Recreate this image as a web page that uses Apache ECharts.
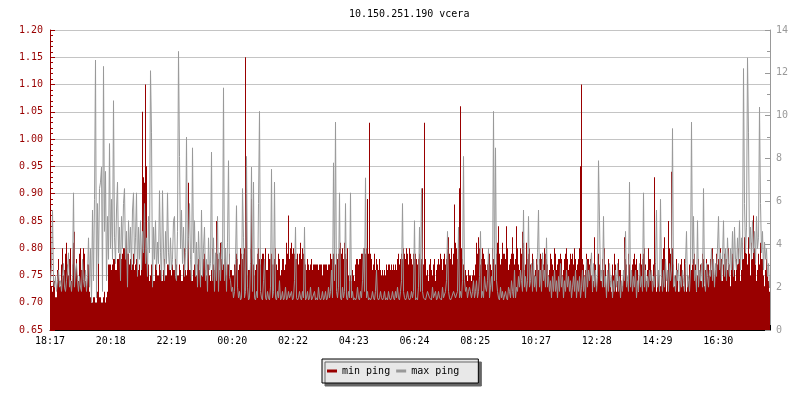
<!DOCTYPE html>
<html><head><meta charset="utf-8">
<script src="https://cdn.jsdelivr.net/npm/echarts@6/dist/echarts.min.js"></script>
<style>html,body{margin:0;padding:0;background:#fff}#c{width:800px;height:400px}</style>
</head><body><div id="c"></div>
<script>
const chartTitle = '10.150.251.190 vcera';
const timeLabels = ['18:17','20:18','22:19','00:20','02:22','04:23','06:24','08:25','10:27','12:28','14:29','16:30'];
const labelStepMin = 121.5;
const minutesPerSample = 2;
const totalMinutes = 1440;
const seriesNames = ['min ping', 'max ping'];
// min ping (ms, left axis), one value per 2 minutes
const minPing = [
.76,.73,.72,.75,.74,.71,.71,.76,.78,.74,.73,.77,.80,.75,.76,.79,.81,.77,.75,.78,.80,.74,.77,.81,.83,.76,.78,.75,.74,.79,.80,.76,.76,.80,.79,.74,.73,.77,.77,.72,.71,.70,.70,.71,.71,.70,.70,.72,.79,.71,.71,.70,.70,.71,.72,.70,.71,.72,.77,.77,
.77,.76,.77,.78,.78,.76,.76,.78,.78,.79,.79,.78,.79,.80,.80,.78,.83,.79,.79,.77,.78,.76,.77,.79,.76,.77,.78,.75,.76,.77,.75,.76,1.05,.93,.92,1.10,.95,.76,.77,.74,.75,.77,.76,.74,.74,.77,.77,.75,.75,.77,.76,.74,.74,.76,.78,.75,.75,.77,.77,.76,
.76,.75,.77,.76,.76,.78,.77,.75,.75,.77,.76,.74,.74,.77,.80,.76,.75,.78,.92,.76,.76,.74,.74,.76,.77,.75,.75,.77,.78,.76,.74,.75,.76,.78,.79,.76,.75,.77,.77,.75,.74,.76,.80,.77,.76,.78,.85,.79,.78,.76,.81,.78,.76,.77,.78,.80,.75,.77,.77,.79,
.76,.76,.75,.75,.77,.77,.79,.78,.76,.77,.80,.79,.78,.79,.80,1.15,.96,.75,.76,.76,.80,.89,.78,.77,.75,.76,.77,.79,.80,.78,.77,.78,.79,.79,.78,.80,.76,.76,.79,.78,.78,.79,.77,.77,.78,.80,.77,.76,.79,.78,.75,.76,.78,.78,.76,.77,.81,.79,.86,.78,
.80,.81,.79,.80,.79,.78,.78,.79,.77,.79,.81,.78,.80,.79,.78,.77,.76,.78,.77,.76,.77,.78,.76,.77,.77,.77,.77,.77,.76,.77,.77,.77,.75,.77,.77,.77,.77,.76,.77,.77,.79,.78,.78,.79,.78,.77,.79,.78,.79,.80,.81,.79,.80,.78,.81,.79,.78,.80,.75,.74,
.75,.74,.76,.75,.74,.77,.78,.78,.77,.78,.78,.79,.79,.80,.80,.79,.80,.89,.79,1.03,.79,.78,.76,.77,.79,.76,.78,.77,.76,.78,.76,.75,.76,.75,.76,.75,.77,.76,.77,.77,.76,.77,.76,.77,.76,.77,.76,.78,.79,.77,.78,.79,.78,.80,.79,.78,.80,.79,.77,.80,
.79,.78,.77,.79,.78,.79,.78,.77,.78,.79,.77,.78,.91,.77,1.03,.78,.75,.76,.74,.77,.78,.76,.75,.77,.78,.74,.76,.77,.78,.77,.79,.78,.76,.78,.79,.77,.78,.80,.82,.79,.78,.80,.77,.79,.88,.81,.80,.78,.82,.91,1.06,.80,.78,.77,.75,.76,.75,.74,.76,.75,
.75,.74,.75,.76,.75,.77,.81,.79,.82,.80,.77,.78,.80,.79,.78,.77,.76,.77,.78,.79,.77,.76,.80,.78,.76,.77,.79,.81,.84,.79,.77,.78,.81,.79,.79,.78,.84,.80,.76,.77,.78,.79,.82,.79,.77,.78,.84,.80,.77,.76,.80,.79,.83,.81,.76,.77,.81,.78,.79,.80,
.77,.76,.79,.78,.75,.76,.78,.77,.76,.78,.79,.78,.76,.77,.80,.79,.78,.77,.75,.76,.79,.78,.77,.76,.80,.79,.76,.77,.78,.78,.79,.78,.75,.76,.78,.79,.80,.78,.76,.77,.79,.78,.79,.77,.80,.78,.76,.77,.78,.80,.95,1.10,.78,.77,.75,.76,.79,.78,.78,.77,
.78,.75,.72,.74,.82,.77,.73,.76,.79,.77,.76,.74,.78,.76,.80,.77,.72,.75,.78,.76,.74,.72,.77,.75,.79,.77,.72,.74,.78,.76,.76,.74,.73,.75,.82,.78,.77,.74,.79,.77,.73,.75,.77,.78,.79,.77,.78,.76,.72,.75,.79,.77,.78,.79,.80,.77,.74,.76,.80,.78,
.78,.76,.74,.77,.93,.78,.72,.74,.76,.75,.73,.76,.78,.80,.82,.78,.72,.76,.85,.80,.79,.94,.80,.77,.73,.75,.78,.76,.72,.74,.77,.78,.75,.73,.78,.77,.72,.75,.74,.77,.78,.76,.77,.78,.79,.77,.72,.75,.78,.76,.77,.74,.79,.78,.73,.76,.78,.77,.77,.75,
.78,.76,.80,.78,.73,.76,.79,.77,.78,.76,.80,.78,.74,.77,.79,.78,.78,.76,.80,.77,.73,.76,.79,.77,.76,.74,.78,.77,.80,.78,.74,.76,.81,.78,.82,.80,.79,.77,.82,.79,.75,.81,.78,.86,.80,.77,.74,.76,.79,.77,.81,.78,.78,.75,.73,.76,.78,.75,.74,.72
];
// max ping (ms, right axis), one value per 2 minutes
const maxPing = [
2.3,3.0,5.6,2.3,2.0,2.5,1.8,2.3,2.8,2.0,2.3,1.8,2.5,3.1,2.0,1.8,2.3,2.8,3.6,2.0,2.3,1.8,2.5,6.4,2.0,2.8,3.1,2.3,1.8,2.5,2.0,1.8,3.3,2.3,2.0,2.8,1.8,2.5,4.3,2.0,3.8,1.3,5.6,2.3,6.1,12.6,1.5,5.9,3.1,6.6,6.9,7.6,1.8,12.3,4.6,7.4,2.3,5.3,3.3,8.7,
3.8,6.1,3.3,10.7,4.3,3.1,5.6,6.9,3.6,4.8,2.3,5.3,3.8,5.9,6.6,3.3,4.6,2.0,5.1,3.6,4.8,2.8,5.6,6.4,3.1,4.3,6.4,2.5,4.8,3.3,5.1,2.8,4.6,3.6,5.9,3.1,4.3,2.5,5.3,3.6,12.1,9.2,2.0,4.8,3.3,5.1,2.8,4.1,3.1,6.5,3.6,2.3,6.5,3.8,2.3,4.6,3.1,6.4,3.6,2.8,
4.3,2.8,3.3,5.1,5.3,2.5,2.3,4.6,13.0,8.1,3.8,5.6,3.1,4.8,2.5,3.6,9.0,2.8,4.3,5.9,3.3,2.3,8.5,3.6,5.1,2.5,4.1,2.0,4.6,3.3,2.0,5.6,2.5,3.8,4.8,2.3,3.3,1.8,4.3,2.8,3.1,8.3,2.3,4.3,1.8,3.6,2.3,5.3,1.8,3.6,2.3,4.1,2.8,11.3,2.3,3.8,1.8,4.1,7.9,2.5,
2.3,1.8,2.0,1.5,1.8,3.3,5.8,2.0,1.5,1.8,1.4,1.5,6.6,4.3,1.5,1.8,8.1,2.0,1.4,1.5,3.1,7.6,1.8,6.9,1.5,1.4,1.8,1.5,5.9,10.2,1.8,1.5,1.4,2.3,3.3,1.5,1.4,1.8,1.5,1.4,2.0,7.5,1.5,1.8,6.9,1.5,1.4,1.8,1.5,2.3,1.4,1.5,1.8,1.4,1.5,2.0,1.4,1.5,1.8,1.5,
1.5,1.8,1.4,1.5,2.3,4.8,1.5,1.4,1.5,1.8,1.5,1.4,1.8,1.5,4.8,1.4,1.5,1.8,1.4,1.5,2.0,1.4,1.5,1.5,1.8,1.4,1.5,1.4,2.0,1.5,1.4,1.5,1.8,1.4,1.5,1.8,1.4,1.5,2.0,1.5,1.8,2.8,1.5,7.8,2.3,9.7,1.8,1.5,2.0,6.4,1.5,1.4,2.0,1.5,1.8,5.9,1.5,1.4,1.8,1.5,
6.4,1.5,1.8,1.4,1.5,1.4,1.5,2.0,1.5,1.4,1.8,1.5,2.3,3.8,1.8,7.1,1.5,1.8,1.4,1.5,1.4,1.5,1.8,1.5,1.4,1.8,2.8,1.5,1.4,1.5,1.8,1.5,1.4,1.5,1.8,1.4,1.5,1.4,1.8,1.5,1.4,1.5,1.8,1.5,1.4,1.8,1.5,2.0,1.5,1.4,1.8,2.3,5.9,1.8,1.5,1.4,1.5,1.8,1.5,1.4,
1.5,1.8,1.5,1.8,5.1,1.4,1.5,1.4,2.0,4.8,1.8,6.6,1.8,1.5,1.5,1.4,1.4,1.8,1.8,1.5,1.5,1.4,2.0,1.5,1.5,1.8,1.4,1.5,1.8,1.5,1.5,1.4,2.0,1.5,1.5,1.8,2.3,4.6,1.8,1.5,1.4,1.5,1.5,1.8,1.8,1.5,1.5,1.8,4.8,1.5,1.8,1.5,2.3,8.1,2.3,1.8,2.0,1.5,1.8,2.0,
2.0,1.5,1.8,2.3,1.5,1.8,2.3,1.5,1.8,2.5,4.6,1.5,1.8,1.5,2.5,2.0,1.8,2.3,3.8,1.5,2.0,2.5,1.8,10.2,2.3,8.5,2.3,1.8,1.5,1.4,2.0,1.5,1.8,1.4,1.4,1.8,1.5,1.4,2.0,1.8,1.5,2.3,1.8,1.5,2.8,1.5,2.0,1.8,2.5,2.0,2.8,2.3,1.8,5.6,2.0,2.5,1.8,2.3,5.3,2.0,
2.3,3.1,1.8,3.3,2.0,2.5,1.8,3.6,5.6,2.0,2.8,1.8,3.6,2.3,2.8,2.0,4.3,2.0,2.5,1.8,2.3,1.5,2.5,1.8,2.8,1.8,2.3,1.5,2.5,1.8,3.1,2.0,2.5,1.5,2.3,1.8,2.8,2.0,2.5,1.8,2.3,1.5,2.0,2.5,1.8,2.8,1.5,2.3,1.8,2.5,1.5,2.0,2.8,1.8,2.5,1.5,3.3,2.0,2.8,2.3,
2.3,3.6,1.8,3.1,2.0,2.8,1.8,2.5,7.9,5.1,2.3,2.8,2.0,5.3,2.0,2.5,1.5,2.8,1.8,3.1,2.0,2.5,1.5,2.3,1.8,2.8,2.0,3.1,1.8,2.5,1.5,2.3,1.8,2.8,2.3,4.6,2.0,2.5,1.8,6.9,2.0,2.8,1.8,2.5,2.0,2.8,1.5,2.3,1.8,3.1,2.0,2.5,1.8,6.4,2.0,2.8,1.8,2.5,2.0,2.8,
2.3,2.8,1.8,2.5,2.0,3.1,5.6,2.0,2.8,1.8,6.1,2.5,1.8,2.8,2.0,3.3,2.3,2.8,1.8,3.1,2.3,2.8,9.4,2.0,2.5,1.8,2.8,2.3,3.1,1.8,2.5,2.0,2.8,2.3,1.8,3.1,4.6,2.0,2.5,1.8,2.8,9.7,3.1,5.3,2.3,2.8,1.8,5.1,2.0,2.8,2.3,3.1,2.0,6.6,2.3,1.8,3.1,2.5,2.0,2.8,
2.5,3.8,2.3,3.3,2.0,3.1,2.5,3.8,5.3,2.8,3.6,2.3,3.3,5.1,2.5,3.8,2.3,4.3,3.1,2.5,3.8,2.8,4.6,2.5,4.8,3.3,2.8,4.3,3.1,5.1,2.8,4.3,3.3,12.2,5.9,3.6,4.8,12.7,9.2,3.8,4.8,3.3,5.1,3.6,4.6,3.1,5.3,3.8,4.3,10.4,5.9,3.6,4.6,2.8,4.1,3.3,3.8,2.5,3.1,2.0
];
const leftAxis = {min: 0.65, max: 1.20, step: 0.05};
const rightAxis = {min: 0, max: 14, step: 2};

const FONT = 'DejaVu Sans Mono';
const RED = '#990000', GRAY = '#999999';
// each value sits at the centre of its 2-minute slot
const minData = minPing.map((v, j) => [j * minutesPerSample + minutesPerSample / 2, v]);
const maxData = maxPing.map((v, j) => [j * minutesPerSample + minutesPerSample / 2, v]);

const chart = echarts.init(document.getElementById('c'), null, {renderer: 'canvas'});
chart.setOption({
  animation: false,
  backgroundColor: '#ffffff',
  title: {text: chartTitle, left: 349, top: 9, padding: 0,
    textStyle: {fontFamily: FONT, fontSize: 10, fontWeight: 'normal', color: '#000'}},
  legend: {left: 322, top: 359, orient: 'horizontal', icon: 'rect', itemWidth: 10, itemHeight: 3, itemGap: 6,
    padding: [6, 19, 6, 5], backgroundColor: '#e8e8e8', borderColor: '#000', borderWidth: 1,
    shadowColor: '#666666', shadowOffsetX: 3, shadowOffsetY: 3, shadowBlur: 0,
    textStyle: {fontFamily: FONT, fontSize: 10, color: '#000', lineHeight: 12},
    data: seriesNames},
  grid: {left: 50, right: 30, top: 30, bottom: 70},
  xAxis: {type: 'value', min: 0, max: totalMinutes, interval: labelStepMin,
    axisLine: {lineStyle: {color: '#000'}},
    axisTick: {inside: true, length: 5, lineStyle: {color: '#000'}},
    axisLabel: {formatter: v => timeLabels[Math.round(v / labelStepMin)] || '', fontFamily: FONT, fontSize: 10, color: '#000', margin: 6},
    splitLine: {show: false}},
  yAxis: [
    {type: 'value', position: 'left', min: leftAxis.min, max: leftAxis.max, interval: leftAxis.step,
      axisLine: {show: true, lineStyle: {color: RED}},
      axisTick: {show: true, inside: true, length: 5, lineStyle: {color: RED}},
      minorTick: {show: true, splitNumber: 5, length: 3, lineStyle: {color: RED}},
      axisLabel: {formatter: v => v.toFixed(2), color: RED, fontFamily: FONT, fontSize: 10, margin: 7},
      splitLine: {show: true, lineStyle: {color: '#c4c4c4'}}},
    {type: 'value', position: 'right', min: rightAxis.min, max: rightAxis.max, interval: rightAxis.step,
      axisLine: {show: true, lineStyle: {color: GRAY}},
      axisTick: {show: true, inside: true, length: 5, lineStyle: {color: GRAY}},
      minorTick: {show: true, splitNumber: 2, length: 3, lineStyle: {color: GRAY}},
      axisLabel: {color: GRAY, fontFamily: FONT, fontSize: 10, margin: 6},
      splitLine: {show: false}}
  ],
  series: [
    {name: seriesNames[0], type: 'bar', yAxisIndex: 0, barWidth: 1, clip: true,
      itemStyle: {color: RED}, emphasis: {disabled: true},
      data: minData},
    {name: seriesNames[1], type: 'line', yAxisIndex: 1, symbol: 'none', color: GRAY,
      lineStyle: {width: 1, color: GRAY},
      data: maxData}
  ]
});
</script></body></html>
